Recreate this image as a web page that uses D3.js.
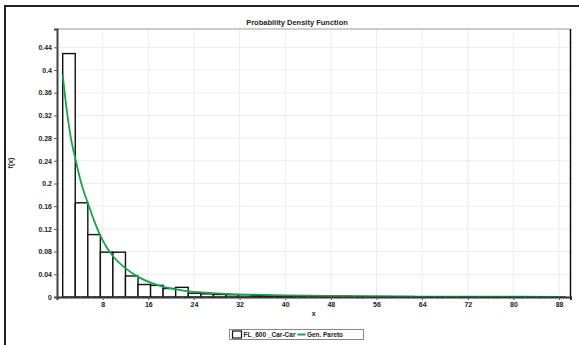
<!DOCTYPE html>
<html>
<head>
<meta charset="utf-8">
<script src="https://cdn.jsdelivr.net/npm/d3@7"></script>
<style>
	body { margin: 0; background: #fff; }
	svg { display: block; font-family: "Liberation Sans", Arial, sans-serif; }
	.tick text { font-size: 7px; font-weight: bold; fill: #222; }
</style>
</head>
<body>
<script>
// histogram: 40 bins of width 2.2 starting at x = 1
var binStart = 1;
var binWidth = 2.2;
var binDensity = [
	0.429, 0.166, 0.110, 0.079, 0.079, 0.037, 0.022, 0.0205, 0.015, 0.017,
	0.0065, 0.0055, 0.0045, 0.004, 0.004, 0.0025, 0.002, 0.002, 0.0015, 0.002,
	0.0015, 0.001, 0.0015, 0.001, 0.001, 0.001, 0.0008, 0.0008, 0.0005, 0.0005,
	0.0005, 0.0004, 0.0004, 0.0003, 0.0003, 0.0003, 0.0002, 0.0002, 0.0002, 0.0002
];

// fitted Gen. Pareto curve
var curveX = [1, 1.7, 2.35, 3.3, 4.4, 5.5, 6.6, 7.7, 8.8, 9.9, 12.1, 14.3, 16.5, 18.7, 20.9, 23.1, 25.3, 28, 32, 40, 48, 56, 64, 72, 80, 89];
var curveY = [0.391, 0.33, 0.285, 0.24, 0.195, 0.163, 0.132, 0.106, 0.086, 0.071, 0.050, 0.035, 0.025, 0.018, 0.0135, 0.010, 0.0082, 0.0065, 0.0048, 0.003, 0.0018, 0.0012, 0.0008, 0.0005, 0.0004, 0.0003];

var xTicks = [8, 16, 24, 32, 40, 48, 56, 64, 72, 80, 88];
var yTicks = [0, 0.04, 0.08, 0.12, 0.16, 0.2, 0.24, 0.28, 0.32, 0.36, 0.4, 0.44];
var legendLabels = ["FL_600 _Car-Car", "Gen. Pareto"];

var W = 579, H = 345;
var plot = { left: 57, right: 570.5, top: 29, bottom: 297 };

var svg = d3.select("body").append("svg")
	.attr("width", W)
	.attr("height", H);

// outer frame (runs off the picture on the right and bottom)
svg.append("rect")
	.attr("x", 5).attr("y", 6)
	.attr("width", 620).attr("height", 400)
	.attr("fill", "none")
	.attr("stroke", "#222")
	.attr("stroke-width", 2);

var x = d3.scaleLinear().domain([0, 90]).range([plot.left, plot.right]);
var y = d3.scaleLinear().domain([0, 0.4723]).range([plot.bottom, plot.top]);

// grid
svg.append("g").selectAll("line")
	.data(xTicks)
	.enter().append("line")
		.attr("x1", function(d) { return x(d); })
		.attr("x2", function(d) { return x(d); })
		.attr("y1", plot.top).attr("y2", plot.bottom)
		.attr("stroke", "#ececec");
svg.append("g").selectAll("line")
	.data(yTicks.slice(1))
	.enter().append("line")
		.attr("x1", plot.left).attr("x2", plot.right)
		.attr("y1", function(d) { return y(d); })
		.attr("y2", function(d) { return y(d); })
		.attr("stroke", "#ececec");

// plot box top + right
svg.append("line")
	.attr("x1", plot.left).attr("x2", plot.right)
	.attr("y1", plot.top).attr("y2", plot.top)
	.attr("stroke", "#999").attr("stroke-width", 1.2);
svg.append("line")
	.attr("x1", plot.right).attr("x2", plot.right)
	.attr("y1", plot.top).attr("y2", plot.bottom)
	.attr("stroke", "#111").attr("stroke-width", 1.5);

// bars
svg.append("g").selectAll("rect")
	.data(binDensity)
	.enter().append("rect")
		.attr("x", function(d, i) { return x(binStart + i * binWidth); })
		.attr("width", function(d, i) { return x(binStart + (i + 1) * binWidth) - x(binStart + i * binWidth); })
		.attr("y", function(d) { return y(d); })
		.attr("height", function(d) { return plot.bottom - y(d); })
		.attr("fill", "#fff")
		.attr("stroke", "#111")
		.attr("stroke-width", 1.4);

// curve
var pts = curveX.map(function(d, i) { return [d, curveY[i]]; });
svg.append("path")
	.datum(pts)
	.attr("fill", "none")
	.attr("stroke", "#16a34a")
	.attr("stroke-width", 1.8)
	.attr("d", d3.line()
		.x(function(d) { return x(d[0]); })
		.y(function(d) { return y(d[1]); })
		.curve(d3.curveMonotoneX));

// axes
var xAxis = svg.append("g")
	.attr("transform", "translate(0," + plot.bottom + ")")
	.call(d3.axisBottom(x).tickValues(xTicks).tickSize(3).tickPadding(2).tickFormat(d3.format("d")));
xAxis.select(".domain").attr("stroke", "#333").attr("stroke-width", 2);
xAxis.selectAll(".tick line").attr("stroke", "#555");
xAxis.selectAll(".tick text").attr("fill", "#222");

svg.append("g")
	.attr("transform", "translate(0," + plot.bottom + ")")
	.call(d3.axisBottom(x).tickValues(d3.range(2, 90, 2).filter(function(d) { return d % 8; })).tickSize(2).tickFormat(""))
	.call(function(g) { g.select(".domain").remove(); g.selectAll("text").remove(); })
	.selectAll(".tick line").attr("stroke", "#777");

var yAxis = svg.append("g")
	.attr("transform", "translate(" + plot.left + ",0)")
	.call(d3.axisLeft(y).tickValues(yTicks).tickSize(3).tickPadding(2).tickFormat(function(d) { return d3.format("")(+d.toFixed(2)); }));
yAxis.select(".domain").attr("stroke", "#444").attr("stroke-width", 2);
yAxis.selectAll(".tick line").attr("stroke", "#555");
yAxis.selectAll(".tick text").attr("fill", "#222");

// titles
svg.append("text")
	.attr("x", 297).attr("y", 25)
	.attr("text-anchor", "middle")
	.style("font-size", "7.5px").style("font-weight", "bold").attr("fill", "#222")
	.text("Probability Density Function");
svg.append("text")
	.attr("x", (plot.left + plot.right) / 2).attr("y", 316)
	.attr("text-anchor", "middle")
	.style("font-size", "7px").style("font-weight", "bold").attr("fill", "#222")
	.text("x");
svg.append("text")
	.attr("transform", "translate(13,163) rotate(-90)")
	.attr("text-anchor", "middle")
	.style("font-size", "7px").style("font-weight", "bold").attr("fill", "#222")
	.text("f(x)");

// legend
var lg = svg.append("g").attr("transform", "translate(229.5,329.5)");
lg.append("rect")
	.attr("width", 134).attr("height", 10)
	.attr("fill", "#fff").attr("stroke", "#888");
lg.append("rect")
	.attr("x", 3).attr("y", 1.5).attr("width", 9).attr("height", 7)
	.attr("fill", "#fff").attr("stroke", "#111").attr("stroke-width", 1.2);
lg.append("text")
	.attr("x", 14).attr("y", 7.5)
	.attr("textLength", 52).attr("lengthAdjust", "spacingAndGlyphs")
	.style("font-size", "6.5px").style("font-weight", "bold").attr("fill", "#222")
	.text(legendLabels[0]);
lg.append("line")
	.attr("x1", 68).attr("x2", 76).attr("y1", 5).attr("y2", 5)
	.attr("stroke", "#16a34a").attr("stroke-width", 2);
lg.append("text")
	.attr("x", 77.5).attr("y", 7.5)
	.attr("textLength", 36).attr("lengthAdjust", "spacingAndGlyphs")
	.style("font-size", "6.5px").style("font-weight", "bold").attr("fill", "#222")
	.text(legendLabels[1]);
</script>
</body>
</html>
